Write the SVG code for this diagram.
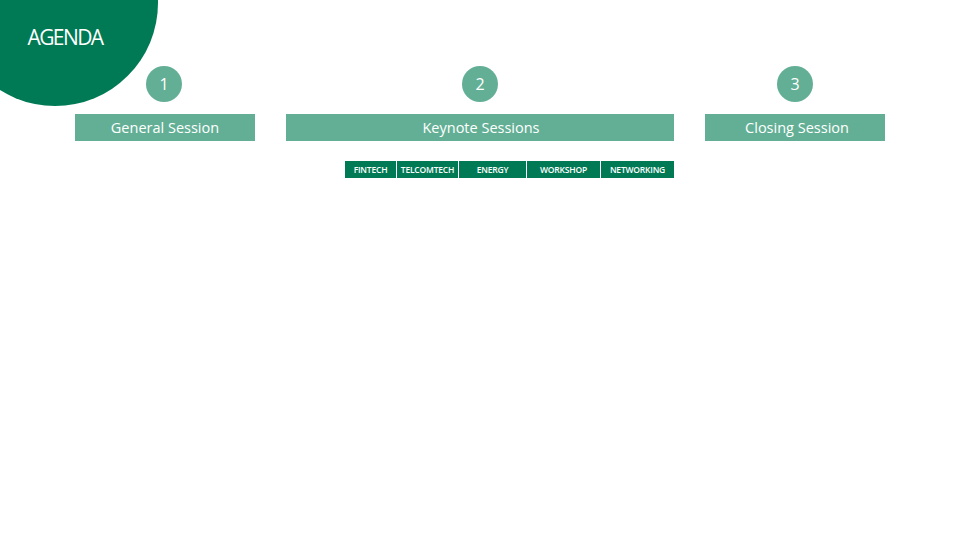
<svg xmlns="http://www.w3.org/2000/svg" width="960" height="540" viewBox="0 0 960 540">
<style>
.dk{fill:#007A55}
.lt{fill:#63AF95}
.t{font-family:"Open Sans","Liberation Sans",sans-serif;fill:#fff;text-anchor:middle}
.bar{font-size:14.5px}
.num{font-size:16px}
.tab{font-size:8.5px;font-weight:600;letter-spacing:-0.2px}
</style>
<rect width="960" height="540" fill="#fff"/>
<g id="header">
<circle class="dk" cx="55" cy="3" r="103"/>
<text class="t" x="65" y="45" font-size="21" letter-spacing="-1.6">AGENDA</text>
</g>
<g id="step1">
<circle class="lt" cx="164" cy="84" r="18"/>
<text class="t num" x="164" y="90">1</text>
<rect class="lt" x="75" y="114" width="180" height="27"/>
<text class="t bar" x="165" y="133">General Session</text>
</g>
<g id="step2">
<circle class="lt" cx="480" cy="84" r="18"/>
<text class="t num" x="480" y="90">2</text>
<rect class="lt" x="286" y="114" width="388" height="27"/>
<text class="t bar" x="481" y="133">Keynote Sessions</text>
</g>
<g id="step3">
<circle class="lt" cx="795" cy="84" r="18"/>
<text class="t num" x="795" y="90">3</text>
<rect class="lt" x="705" y="114" width="180" height="27"/>
<text class="t bar" x="797" y="133">Closing Session</text>
</g>
<g id="tabs">
<rect class="dk" x="345" y="161" width="51" height="17"/>
<text class="t tab" x="370.5" y="173">FINTECH</text>
<rect class="dk" x="397" y="161" width="61" height="17"/>
<text class="t tab" x="427.5" y="173">TELCOMTECH</text>
<rect class="dk" x="459" y="161" width="67" height="17"/>
<text class="t tab" x="492.5" y="173">ENERGY</text>
<rect class="dk" x="527" y="161" width="73" height="17"/>
<text class="t tab" x="563.5" y="173">WORKSHOP</text>
<rect class="dk" x="601" y="161" width="73" height="17"/>
<text class="t tab" x="637.5" y="173">NETWORKING</text>
</g>
</svg>
